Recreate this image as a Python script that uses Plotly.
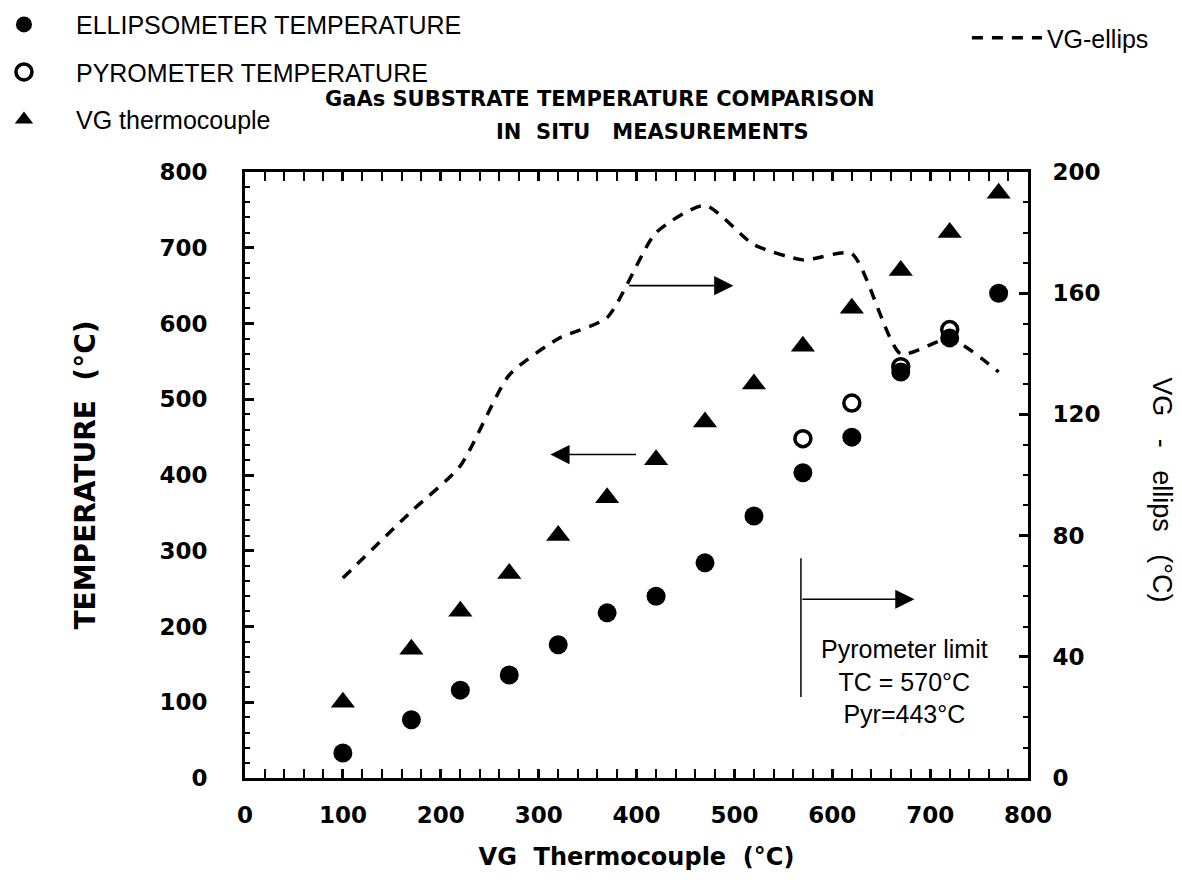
import plotly.graph_objects as go

# ---- data ----
vg_tc = [100, 170, 220, 270, 320, 370, 420, 470, 520, 570, 620, 670, 720, 770]
ellipsometer = [33, 77, 116, 136, 176, 218, 240, 284, 346, 403, 450, 536, 581, 640]
pyro_x = [570, 620, 670, 720]
pyrometer = [448, 495, 543, 592]
thermocouple = [100, 170, 220, 270, 320, 370, 420, 470, 520, 570, 620, 670, 720, 772]
vg_minus_ellips = [66, 88, 103, 133, 145, 152, 180, 189, 176, 171, 173, 140, 145, 134]

x_ticks = [0, 100, 200, 300, 400, 500, 600, 700, 800]
y_ticks = [0, 100, 200, 300, 400, 500, 600, 700, 800]
y2_ticks = [0, 40, 80, 120, 160, 200]

FONT = "Liberation Sans, Arial, Helvetica, sans-serif"
BFONT = "DejaVu Sans, Liberation Sans, Arial, sans-serif"
BOLD = dict(family=BFONT, size=23, color="black", weight="bold")

fig = go.Figure()

fig.add_trace(go.Scatter(
    x=vg_tc, y=ellipsometer, mode="markers", name="ELLIPSOMETER TEMPERATURE",
    marker=dict(symbol="circle", size=19, color="black"),
    legend="legend", legendgroup="a"))
fig.add_trace(go.Scatter(
    x=pyro_x, y=pyrometer, mode="markers", name="PYROMETER TEMPERATURE",
    marker=dict(symbol="circle-open", size=16, color="black", line=dict(width=3.5, color="black")),
    legend="legend", legendgroup="b"))
fig.add_trace(go.Scatter(
    x=vg_tc, y=thermocouple, mode="markers", name="VG thermocouple",
    marker=dict(symbol="triangle-up", size=21, color="black"),
    legend="legend", legendgroup="c"))
fig.add_trace(go.Scatter(
    x=vg_tc, y=vg_minus_ellips, mode="lines", name="VG-ellips", yaxis="y2",
    line=dict(color="black", width=3.5, dash="11px,9px", shape="spline", smoothing=0.6),
    legend="legend2"))

fig.update_layout(
    width=1182, height=887,
    margin=dict(l=245, r=154, t=172, b=109, autoexpand=False),
    paper_bgcolor="white", plot_bgcolor="white",
    font=dict(family=FONT, color="black"),
    showlegend=True,
    legend=dict(x=-0.3487, y=1.281, xanchor="left", yanchor="top",
                font=dict(family=FONT, size=25, color="black"),
                bgcolor="rgba(0,0,0,0)", borderwidth=0, tracegroupgap=12,
                itemwidth=94),
    legend2=dict(x=0.922, y=1.259, xanchor="left", yanchor="top",
                 font=dict(family=FONT, size=25, color="black"),
                 bgcolor="rgba(0,0,0,0)", borderwidth=0, itemwidth=70),
    xaxis=dict(range=[0, 800], tickvals=x_ticks, ticktext=[str(v) for v in x_ticks],
               ticks="inside", ticklen=9, tickwidth=2.5, tickcolor="black",
               showline=True, linewidth=3, linecolor="black", mirror="allticks",
               showgrid=False, zeroline=False, tickfont=BOLD, ticklabelstandoff=14,
               minor=dict(dtick=20, ticks="inside", ticklen=5, tickwidth=2, tickcolor="black"),
               title=dict(text="VG  Thermocouple  (°C)",
                          font=dict(family=BFONT, size=24, color="black", weight="bold"), standoff=22)),
    yaxis=dict(range=[0, 800], tickvals=y_ticks, ticktext=[str(v) for v in y_ticks],
               ticks="inside", ticklen=9, tickwidth=2.5, tickcolor="black",
               showline=True, linewidth=3, linecolor="black", mirror=True,
               showgrid=False, zeroline=False, tickfont=BOLD, ticklabelstandoff=30,
               minor=dict(dtick=20, ticks="inside", ticklen=5, tickwidth=2, tickcolor="black"),
               title=dict(text="TEMPERATURE  (°C)",
                          font=dict(family=BFONT, size=28, color="black", weight="bold"), standoff=56)),
    yaxis2=dict(range=[0, 200], tickvals=y2_ticks, ticktext=[str(v) for v in y2_ticks],
                overlaying="y", side="right",
                ticks="inside", ticklen=9, tickwidth=2.5, tickcolor="black",
                showline=True, linewidth=3, linecolor="black",
                showgrid=False, zeroline=False, tickfont=BOLD, ticklabelstandoff=17,
                minor=dict(dtick=10, ticks="inside", ticklen=5, tickwidth=2, tickcolor="black")),
)

TITLE_FONT = dict(family=BFONT, size=21, color="black", weight="bold")
# Title (two lines)
fig.add_annotation(xref="paper", yref="paper", x=0.4534, y=1.120, showarrow=False,
                   xanchor="center", yanchor="middle",
                   text="GaAs SUBSTRATE TEMPERATURE COMPARISON", font=TITLE_FONT)
fig.add_annotation(xref="paper", yref="paper", x=0.521, y=1.066, showarrow=False,
                   xanchor="center", yanchor="middle",
                   text="IN  SITU   MEASUREMENTS", font=TITLE_FONT)

# Right axis title, reading top to bottom
fig.add_annotation(xref="paper", yref="paper", x=1.171, y=0.475, showarrow=False,
                   xanchor="center", yanchor="middle",
                   text="VG   -   ellips   (°C)", textangle=90,
                   font=dict(family=FONT, size=27, color="black"))

ARROW = dict(showarrow=True, arrowhead=2, arrowsize=2.4, arrowwidth=1.6, arrowcolor="black", text="")
# Arrows indicating axes
fig.add_annotation(xref="x", yref="y", axref="x", ayref="y", x=312, y=427, ax=401, ay=427, **ARROW)
fig.add_annotation(xref="x", yref="y", axref="x", ayref="y", x=499, y=650, ax=391, ay=650, **ARROW)

# Pyrometer limit marker
fig.add_shape(type="line", xref="x", yref="y", x0=568, x1=568, y0=107, y1=290,
              line=dict(color="black", width=1.5))
fig.add_annotation(xref="x", yref="y", axref="x", ayref="y", x=684, y=236, ax=568, ay=236, **ARROW)
fig.add_annotation(xref="x", yref="y", x=674, y=127, showarrow=False,
                   xanchor="center", yanchor="middle",
                   text="Pyrometer limit<br>TC = 570°C<br>Pyr=443°C", align="center",
                   font=dict(family=FONT, size=25, color="black"))

fig.write_html("out.html")
